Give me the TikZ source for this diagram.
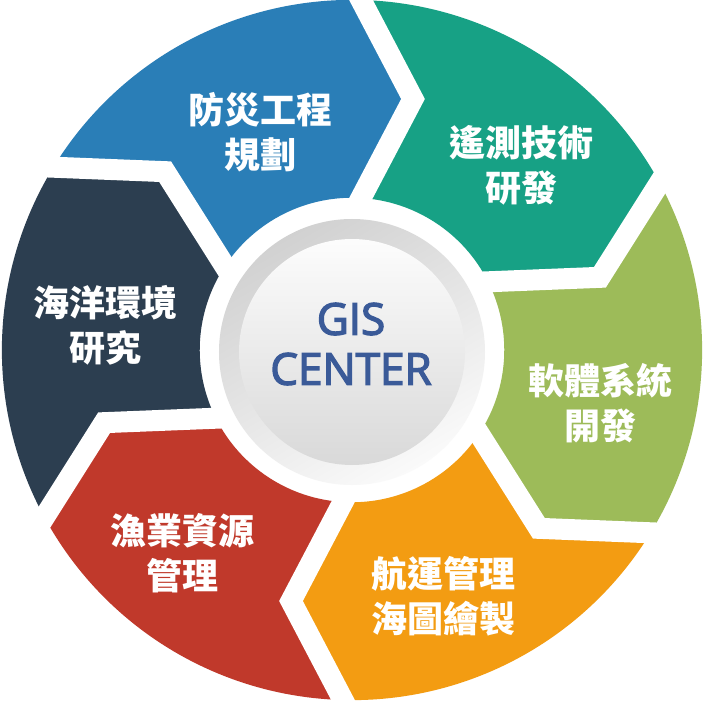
\documentclass[tikz,border=0pt]{standalone}
\usepackage{fontspec}
\usetikzlibrary{calc}
\newfontfamily\cjk{Noto Sans CJK TC}
\newfontfamily\gisfont[FakeBold=3]{Open Sans}
\definecolor{cblue}{HTML}{2A7EB7}
\definecolor{cteal}{HTML}{17A185}
\definecolor{cgreen}{HTML}{9DBB59}
\definecolor{corange}{HTML}{F39C12}
\definecolor{cred}{HTML}{C0392B}
\definecolor{cdark}{HTML}{2C3E50}
\definecolor{ctext}{HTML}{3A5A98}
\tikzset{
  seglabel/.style={text=white, align=center, inner sep=0pt,
    font=\cjk\bfseries\fontsize{36}{45}\selectfont},
  gap/.style={white, line width=21pt, line join=miter},
}
\begin{document}
\begin{tikzpicture}[x=1pt,y=1pt]
\useasboundingbox[fill=white] (-352,-351) rectangle (351,350);
% segments: tail angle, head angle, colour
\foreach \a/\c in {150/cblue, 90/cteal, 30/cgreen, -30/corange, -90/cred, -150/cdark}{
  \pgfmathsetmacro{\b}{\a-60}
  \fill[\c] ($(\a:350)+(\a-90:9)$)
     arc[start angle=\a-1.47, end angle=\b-1.47, radius=350.12]
     -- ($(\b:251)+(\b-90:61)$)
     -- ($(\b:152)+(\b-90:9)$)
     arc[start angle=\b-3.39, end angle=\a-3.39, radius=152.27]
     -- ($(\a:251)+(\a-90:61)$) -- cycle;
}
% white chevron gaps
\foreach \t in {150, 90, 30, -30, -90, -150}{
  \coordinate (o\t) at ($(\t:350)+(\t-90:9)$);
  \coordinate (m\t) at ($(\t:251)+(\t-90:61)$);
  \coordinate (i\t) at ($(\t:152)+(\t-90:9)$);
  \draw[gap] ($(m\t)!1.3!(o\t)$) -- (m\t) -- ($(m\t)!1.3!(i\t)$);
}
% centre circle
\shade[left color=black!18, right color=black!2, shading angle=30]
  (0,-2) circle[radius=133];
\shade[top color=black!1, bottom color=black!15]
  (0,-2) circle[radius=113];
\node[text=ctext, align=center, inner sep=0pt,
  font=\gisfont\fontsize{44}{50}\selectfont] (gis) at (-1,6) {GIS\\CENTER};
% labels
\node[seglabel] (l1) at (-91,217.5) {防災工程\\規劃};
\node[seglabel] (l2) at (169,184.5) {遙測技術\\研發};
\node[seglabel] (l3) at (248,-53.5) {軟體系統\\開發};
\node[seglabel] (l4) at (91,-246.5) {航運管理\\海圖繪製};
\node[seglabel] (l5) at (-169,-203.5) {漁業資源\\管理};
\node[seglabel] (l6) at (-246,24.5) {海洋環境\\研究};
\end{tikzpicture}
\end{document}
